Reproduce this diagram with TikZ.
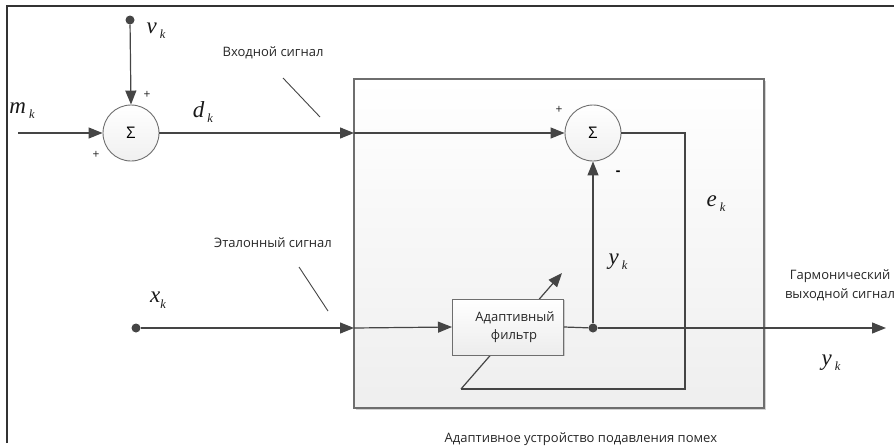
\documentclass[tikz,border=0pt]{standalone}
\usepackage{fontspec}
\setmainfont{Liberation Serif}
\newfontfamily\lblfont{Open Sans}
\usetikzlibrary{arrows.meta,shadows}
\definecolor{ln}{HTML}{454545}
\definecolor{bd}{HTML}{6E6E6E}
\newcommand{\lab}[2]{{\fontsize{23}{23}\selectfont\itshape #1}\hspace{3pt}\raisebox{-5pt}{\fontsize{12.5}{12.5}\selectfont\itshape #2}}
\tikzset{
  wire/.style={draw=ln, line width=1.2pt},
  arr/.style={wire, -{Triangle[length=14pt,width=11pt]}},
  sumnode/.style={circle, draw=bd, line width=0.9pt, minimum size=56pt, inner sep=0pt,
     top color=white, bottom color=gray!12, font=\lblfont\fontsize{16}{16}\selectfont},
  txt/.style={font=\lblfont\fontsize{13}{19}\selectfont, text=black!85},
  sgn/.style={font=\lblfont\fontsize{12}{12}\selectfont, text=black!85},
  dotn/.style={circle, fill=ln, inner sep=0pt, minimum size=9pt},
  mlab/.style={inner sep=0pt, text=black!90},
}
\begin{document}
\begin{tikzpicture}[x=1pt,y=-1pt]
\useasboundingbox (0,0) rectangle (894,447);
% outer frame
\draw[line width=1.6pt, black!80] (7,443) -- (7,6) -- (894,6);
% big box
\node[draw=bd, line width=1.3pt, top color=white, bottom color=gray!13, minimum width=410pt, minimum height=329pt,
  inner sep=0pt, drop shadow={shadow xshift=1.5pt, shadow yshift=-1.5pt, opacity=0.35}] (box) at (559,243.5) {};
% coordinates
\coordinate (mstart) at (18,133);
\coordinate (in1) at (354,133);
\coordinate (in2) at (354,328);
\coordinate (ec1) at (685,133);
\coordinate (ec2) at (685,389);
\coordinate (ec3) at (461,389);
\coordinate (etip) at (562,273);
\coordinate (oend) at (886,328);
\node[dotn] (vdot) at (130,20) {};
\node[dotn] (xdot) at (136,328) {};
\node[sumnode] (s1) at (131,133) {Σ};
\node[sumnode] (s2) at (593,133) {Σ};
% adaptation line (behind filter)
\draw[wire] (s2.east) -- (ec1) -- (ec2) -- (ec3);
\draw[arr] (ec3) -- (etip);
% filter
\node[draw=bd, line width=1pt, top color=white, bottom color=gray!15, minimum width=111pt, minimum height=56pt,
  inner sep=0pt, drop shadow={shadow xshift=1.2pt, shadow yshift=-1.2pt, opacity=0.35},
  align=center, font=\lblfont\fontsize{13}{18}\selectfont, text=black!85] (filt) at (508,327) {\hspace*{14pt}Адаптивный\\\hspace*{12pt}фильтр};
\node[dotn] (jdot) at (593,328) {};
% wires
\draw[arr] (mstart) -- (s1.west);
\draw[arr] (vdot) -- (s1.north);
\draw[arr] (s1.east) -- (in1);
\draw[arr] (in1) -- (s2.west);
\draw[arr] (xdot) -- (in2);
\draw[arr] (in2) -- (filt.west);
\draw[wire] (filt.east) -- (jdot);
\draw[arr] (jdot) -- (oend);
\draw[arr] (jdot) -- (s2.south);
% pointer slashes
\coordinate (p1a) at (283,78); \coordinate (p1b) at (320,117);
\coordinate (p2a) at (299,267); \coordinate (p2b) at (328,311);
\draw[ln, line width=0.9pt] (p1a) -- (p1b);
\draw[ln, line width=0.9pt] (p2a) -- (p2b);
% texts
\node[txt] (tin) at (273,53) {Входной сигнал};
\node[txt] (tref) at (273,243) {Эталонный сигнал};
\node[txt, align=center] (tout) at (840,285) {Гармонический\\выходной сигнал};
\node[txt] (tcap) at (581,439) {Адаптивное устройство подавления помех};
% signs
\node[sgn] (pl1) at (147,95) {+};
\node[sgn] (pl2) at (96,155) {+};
\node[sgn] (pl3) at (559,110) {+};
\node[font=\lblfont\bfseries\fontsize{14}{14}\selectfont] (mi) at (618,173) {-};
% math labels
\node[mlab] (lv) at (156,31) {\lab{v}{k}};
\node[mlab] (lm) at (22,111) {\lab{m}{k}};
\node[mlab] (ld) at (203,112) {\lab{d}{k}};
\node[mlab] (le) at (716,204) {\lab{e}{k}};
\node[mlab] (ly1) at (618,262) {\lab{y}{k}};
\node[mlab] (ly2) at (831,363) {\lab{y}{k}};
\node[mlab] (lx) at (158,300) {{\fontsize{23}{23}\selectfont\itshape x}\hspace{0pt}\raisebox{-6pt}{\fontsize{12.5}{12.5}\selectfont\itshape k}};
\end{tikzpicture}
\end{document}
